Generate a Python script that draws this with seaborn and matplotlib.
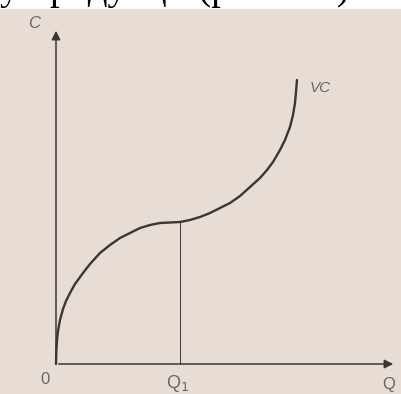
import numpy as np
import pandas as pd
import matplotlib
matplotlib.use("Agg")
import matplotlib.pyplot as plt
import seaborn as sns

# values (Q along x, C up the y axis)
q_values = [0, 0.3, 1, 2, 4, 7, 10, 14, 19, 27, 34, 44, 54, 64, 74, 84, 94, 104, 114, 124,
            134, 144, 154, 164, 174, 184, 194, 204, 211, 217, 224, 229, 234, 237, 239, 240, 241]
vc_values = [0, 12, 24, 33, 44, 55, 63, 71, 80, 91, 100, 111, 119, 126, 131, 136, 139, 141, 141.5, 142,
             144, 147, 151, 156, 161, 168, 177, 186, 194, 202, 214, 224, 237, 249, 261, 272, 284]
q1 = 124
axis_labels = ["C", "Q", "0", "Q$_1$", "VC"]
caption = "у продукції (рис. 6.2)."

paper = "#e7ddd5"
ink = "#3b3636"
label_ink = "#6b6564"

sns.set_style("white")
plt.rcParams["font.family"] = ["Liberation Sans", "DejaVu Sans"]

df = pd.DataFrame({"Q": q_values, "VC": vc_values})

fig = plt.figure(figsize=(4.02, 3.94), dpi=100, facecolor=paper)
ax = fig.add_axes([0, 0, 1, 1])
ax.set_facecolor(paper)

# the VC curve
sns.lineplot(data=df, x="Q", y="VC", ax=ax, color=ink, linewidth=1.7, sort=False)

# axes with arrow heads
ax.annotate("", xy=(0, 336), xytext=(0, 0),
            arrowprops=dict(arrowstyle="-|>", color=ink, lw=1.1, mutation_scale=13))
ax.annotate("", xy=(340, 0), xytext=(0, 0),
            arrowprops=dict(arrowstyle="-|>", color=ink, lw=1.1, mutation_scale=13))

# thin line up from Q1 to the curve
vc_at_q1 = vc_values[q_values.index(q1)]
ax.plot([q1, q1], [0, vc_at_q1], color=ink, lw=0.7)

ax.text(-22, 341, axis_labels[0], fontsize=12, color=label_ink, ha="center", va="center", style="italic")
ax.text(333, -20, axis_labels[1], fontsize=12, color=label_ink, ha="center", va="center")
ax.text(-11, -16, axis_labels[2], fontsize=12, color=label_ink, ha="center", va="center")
ax.text(q1 - 2, -19, axis_labels[3], fontsize=13, color=label_ink, ha="center", va="center")
ax.text(254, 276, axis_labels[4], fontsize=11, color=label_ink, ha="left", va="center", style="italic")

# white strip with the cut-off line of the page text above the figure
ax.axhspan(355, 380, color="white", lw=0)
ax.text(-56, 365, caption, fontsize=28, family="Liberation Serif", color="black",
        ha="left", va="baseline", clip_on=True)

ax.set_xlim(-56, 346)
ax.set_ylim(-30, 364)
ax.set_xlabel("")
ax.set_ylabel("")
ax.axis("off")

fig.savefig("out.png", dpi=100, facecolor=paper)
